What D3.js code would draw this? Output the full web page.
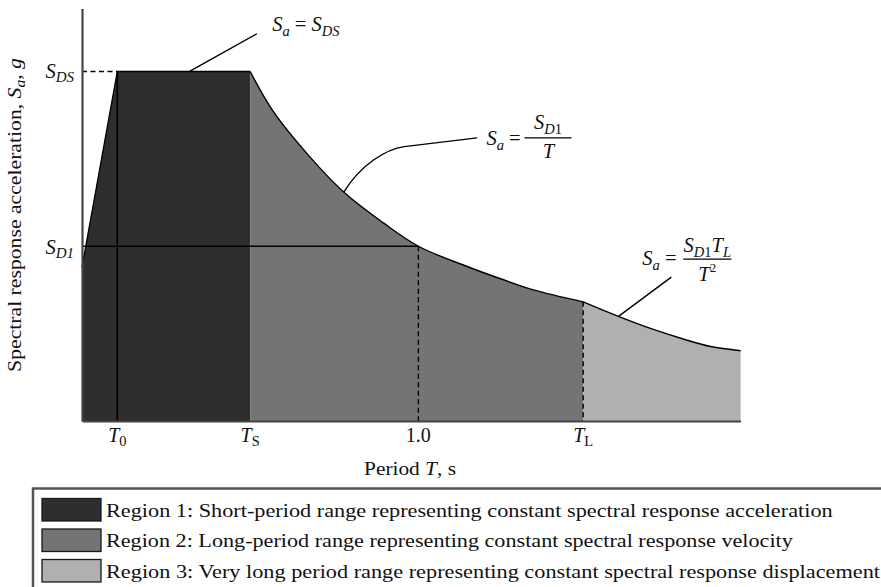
<!DOCTYPE html>
<html><head><meta charset="utf-8">
<script src="https://cdn.jsdelivr.net/npm/d3@7"></script>
<style>
body{margin:0;background:#fff}
svg{display:block}
text{font-family:"Liberation Serif","Times New Roman",serif;fill:#111}
</style>
</head><body>
<svg id="chart" width="881" height="587"></svg>
<script>
// ---------------- data ----------------
const periodMax = 1.958;      // right end of the spectrum, s
const saMax = 1.18;           // top of the y axis (in units of S_DS)
const T0 = 0.105, TS = 0.5, T1 = 1.0, TL = 1.49;
const SDS = 1.0, SD1 = 0.5, SA_AT_ZERO = 0.44;

const region1T  = [0, 0, T0, TS, TS];
const region1Sa = [0, SA_AT_ZERO, SDS, SDS, 0];

const region2T  = [0.5, 0.569, 0.669, 0.778, 0.897, 1.0, 1.145, 1.244, 1.342, 1.49];
const region2Sa = [1.0, 0.885, 0.765, 0.655, 0.566, 0.50, 0.442, 0.407, 0.375, 0.341];

const region3T  = [1.49, 1.591, 1.69, 1.79, 1.869, 1.958];
const region3Sa = [0.341, 0.301, 0.265, 0.234, 0.213, 0.201];

const xTickValues = [T0, TS, T1, TL];
const xTickMain   = ["T", "T", "1.0", "T"];
const xTickSub    = ["0", "S", "", "L"];
const yTickValues = [SDS, SD1];
const yTickMain   = ["S", "S"];
const yTickSub    = ["DS", "D1"];

const legendLabels = [
  "Region 1: Short-period range representing constant spectral response acceleration",
  "Region 2: Long-period range representing constant spectral response velocity",
  "Region 3: Very long period range representing constant spectral response displacement"
];
const regionColors = ["#2e2e2e", "#747474", "#b0b0b0"];

// ---------------- layout ----------------
const svg = d3.select("#chart");
const x = d3.scaleLinear().domain([0, periodMax]).range([82, 740.6]);
const y = d3.scaleLinear().domain([0, saMax]).range([421, 8.6]);

const pts = (ts, ss) => ts.map((t, i) => ({t, s: ss[i]}));
const r1 = pts(region1T, region1Sa);
const r2 = pts(region2T, region2Sa);
const r3 = pts(region3T, region3Sa);
const smooth = d3.curveCatmullRom.alpha(0.5);

// region fills
svg.append("path")
  .attr("d", d3.line().x(d => x(d.t)).y(d => y(d.s))(r1) + "Z")
  .attr("fill", regionColors[0]);

const area = d3.area().x(d => x(d.t)).y0(y(0)).y1(d => y(d.s)).curve(smooth);
svg.append("path").attr("d", area(r2)).attr("fill", regionColors[1]);
svg.append("path").attr("d", area(r3)).attr("fill", regionColors[2]);

// spectrum outline
const lin = d3.line().x(d => x(d.t)).y(d => y(d.s));
svg.append("path").attr("d", lin(r1.slice(1, 4)))
  .attr("fill", "none").attr("stroke", "#000").attr("stroke-width", 1.3);
const crv = d3.line().x(d => x(d.t)).y(d => y(d.s)).curve(smooth);
[r2, r3].forEach(seg => svg.append("path").attr("d", crv(seg))
  .attr("fill", "none").attr("stroke", "#000").attr("stroke-width", 1.4));

// reference lines
function seg(t1, s1, t2, s2, dash, w) {
  svg.append("line")
    .attr("x1", x(t1)).attr("y1", y(s1)).attr("x2", x(t2)).attr("y2", y(s2))
    .attr("stroke", "#000").attr("stroke-width", w || 1.4)
    .attr("stroke-dasharray", dash ? "5,3.5" : null);
}
seg(0, SDS, T0, SDS, true);
seg(T0, SDS, T0, 0, false, 1.6);
seg(0, SD1, T1, SD1, false, 1.6);
seg(T1, SD1, T1, 0, true);
seg(TL, region3Sa[0], TL, 0, true);

// axes (lines only; labels carry subscripts)
const gx = svg.append("g").attr("transform", `translate(0,${y(0)})`)
  .call(d3.axisBottom(x).tickValues([]).tickSizeOuter(0));
const gy = svg.append("g").attr("transform", `translate(${x(0)},0)`)
  .call(d3.axisLeft(y).tickValues([]).tickSizeOuter(0));
[gx, gy].forEach(g => g.select(".domain").attr("stroke", "#444").attr("stroke-width", 2.2));

// x tick labels
xTickValues.forEach((v, i) => {
  const t = svg.append("text").attr("x", x(v)).attr("y", 442)
    .attr("text-anchor", "middle").attr("font-size", 20);
  t.append("tspan").attr("font-style", xTickSub[i] ? "italic" : "normal").text(xTickMain[i]);
  if (xTickSub[i]) t.append("tspan").attr("font-size", 14.5).attr("dy", 4).text(xTickSub[i]);
});

// y tick labels
yTickValues.forEach((v, i) => {
  const t = svg.append("text").attr("x", 74).attr("y", y(v) + (i === 0 ? 6 : 8))
    .attr("text-anchor", "end").attr("font-size", 20.5);
  t.append("tspan").attr("font-style", "italic").text(yTickMain[i]);
  t.append("tspan").attr("font-size", 15).attr("font-style", "italic").attr("dy", 4).text(yTickSub[i]);
});

// axis titles
function fit(sel, width) {
  const w = sel.node().getComputedTextLength();
  sel.attr("transform", `scale(${width / w},1)`);
}
const xt = svg.append("g").attr("transform", "translate(410,475)")
  .append("text").attr("text-anchor", "middle").attr("font-size", 19.5);
xt.append("tspan").text("Period ");
xt.append("tspan").attr("font-style", "italic").text("T");
xt.append("tspan").text(", s");
fit(xt, 92);

const yt = svg.append("g").attr("transform", "translate(21,215) rotate(-90)")
  .append("text").attr("text-anchor", "middle").attr("font-size", 19.5);
yt.append("tspan").text("Spectral response acceleration, ");
yt.append("tspan").attr("font-style", "italic").text("S");
yt.append("tspan").attr("font-style", "italic").attr("font-size", 14).attr("dy", 4).text("a");
yt.append("tspan").attr("dy", -4).text(", ");
yt.append("tspan").attr("font-style", "italic").text("g");
fit(yt, 314);

// ---------------- annotations ----------------
function lhs(g) { // "S_a ="
  const t = g.append("text").attr("font-size", 20.5);
  t.append("tspan").attr("font-style", "italic").text("S");
  t.append("tspan").attr("font-style", "italic").attr("font-size", 14.5).attr("dy", 5).text("a");
  t.append("tspan").attr("dy", -5).text(" = ");
  return t;
}
function leader(d) {
  svg.append("path").attr("d", d).attr("fill", "none").attr("stroke", "#000").attr("stroke-width", 1.4);
}
// 1) S_a = S_DS
{
  const g = svg.append("g").attr("transform", `translate(${x(0.5655)},${y(1.1146)})`);
  const t = lhs(g);
  t.append("tspan").attr("font-style", "italic").text("S");
  t.append("tspan").attr("font-style", "italic").attr("font-size", 14.5).attr("dy", 5).text("DS");
  leader(`M${x(0.52)},${y(1.108)}L${x(0.321)},${y(1.001)}`);
}
// 2) S_a = S_D1 / T
{
  const ax = x(1.2024), ay = y(0.7908);
  const g = svg.append("g").attr("transform", `translate(${ax},${ay})`);
  lhs(g);
  g.append("line").attr("x1", 38).attr("x2", 85).attr("y1", -6.7).attr("y2", -6.7)
    .attr("stroke", "#000").attr("stroke-width", 1.2);
  const n = g.append("text").attr("x", 61.5).attr("y", -15.5).attr("text-anchor", "middle").attr("font-size", 20.5);
  n.append("tspan").attr("font-style", "italic").text("S");
  n.append("tspan").attr("font-size", 14.5).attr("dy", 5).attr("font-style", "italic").text("D");
  n.append("tspan").attr("font-size", 14.5).text("1");
  g.append("text").attr("x", 62).attr("y", 13.3).attr("text-anchor", "middle").attr("font-size", 20.5)
    .attr("font-style", "italic").text("T");
  leader(`M${x(1.1747)},${y(0.81)}L${x(0.9583)},${y(0.7851)}C${x(0.905)},${y(0.778)} ${x(0.83)},${y(0.735)} ${x(0.7783)},${y(0.655)}`);
}
// 3) S_a = S_D1 T_L / T^2
{
  const ax = x(1.6658), ay = y(0.447);
  const g = svg.append("g").attr("transform", `translate(${ax},${ay})`);
  lhs(g);
  g.append("line").attr("x1", 41).attr("x2", 89).attr("y1", -5.7).attr("y2", -5.7)
    .attr("stroke", "#000").attr("stroke-width", 1.2);
  const n = g.append("text").attr("x", 65).attr("y", -12.3).attr("text-anchor", "middle").attr("font-size", 20.5);
  n.append("tspan").attr("font-style", "italic").text("S");
  n.append("tspan").attr("font-size", 14.5).attr("dy", 5).attr("font-style", "italic").text("D");
  n.append("tspan").attr("font-size", 14.5).text("1");
  n.append("tspan").attr("dy", -5).attr("font-style", "italic").text("T");
  n.append("tspan").attr("font-size", 14.5).attr("dy", 5).attr("font-style", "italic").text("L");
  const dn = g.append("text").attr("x", 65).attr("y", 16.7).attr("text-anchor", "middle").attr("font-size", 20.5);
  dn.append("tspan").attr("font-style", "italic").text("T");
  dn.append("tspan").attr("font-size", 13).attr("dy", -9).text("2");
  leader(`M${x(1.752)},${y(0.4117)}L${x(1.596)},${y(0.3)}`);
}

// ---------------- legend ----------------
svg.append("rect").attr("x", 33).attr("y", 488.5).attr("width", 900).attr("height", 150)
  .attr("fill", "none").attr("stroke", "#555").attr("stroke-width", 2.5);
const legendWidths = [727, 687, 774];
legendLabels.forEach((lab, i) => {
  svg.append("rect").attr("x", 42).attr("y", 498.5 + i * 30.5).attr("width", 59).attr("height", 22.5)
    .attr("fill", regionColors[i]).attr("stroke", "#1a1a1a").attr("stroke-width", 1.3);
  const t = svg.append("g").attr("transform", `translate(106,${516.5 + i * 30.5})`)
    .append("text").attr("font-size", 18).text(lab);
  fit(t, legendWidths[i]);
});
</script>
</body></html>
